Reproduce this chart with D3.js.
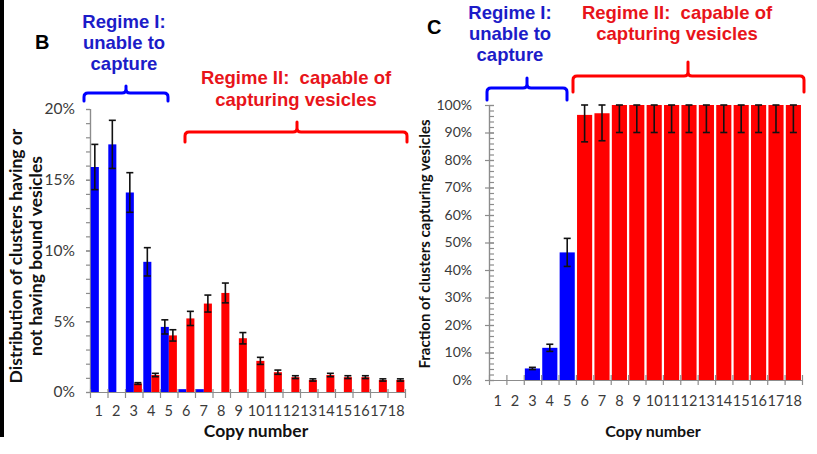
<!DOCTYPE html>
<html>
<head>
<meta charset="utf-8">
<script src="https://cdn.jsdelivr.net/npm/d3@7"></script>
<style>
  body { margin: 0; background: #fff; }
  svg { display: block; }
</style>
</head>
<body>
<svg id="chart" width="817" height="454"></svg>
<script>
// copy numbers shared by both panels
const copyNumbers = d3.range(1, 19);

// panel B: distribution (fraction), blue = not bound, red = bound
const distBlue    = [0.159, 0.175, 0.141, 0.092, 0.046, 0.002, 0.002, 0, 0, 0, 0, 0, 0, 0, 0, 0, 0, 0];
const distBlueErr = [0.016, 0.017, 0.014, 0.010, 0.005, 0, 0, 0, 0, 0, 0, 0, 0, 0, 0, 0, 0, 0];
const distRed     = [0, 0, 0.006, 0.012, 0.040, 0.052, 0.0625, 0.070, 0.038, 0.022, 0.014, 0.0105, 0.0085, 0.012, 0.0105, 0.0105, 0.0085, 0.0085];
const distRedErr  = [0, 0, 0.0006, 0.0012, 0.004, 0.005, 0.006, 0.007, 0.004, 0.0025, 0.0015, 0.001, 0.0008, 0.0012, 0.001, 0.001, 0.0008, 0.0008];

// panel C: fraction of clusters capturing vesicles
const captureFrac = [0, 0, 0.042, 0.117, 0.464, 0.964, 0.970, 1, 1, 1, 1, 1, 1, 1, 1, 1, 1, 1];
const captureErr  = [0, 0, 0.004, 0.013, 0.051, 0.098, 0.100, 0.10, 0.10, 0.10, 0.10, 0.10, 0.10, 0.10, 0.10, 0.10, 0.10, 0.10];
const regimeOf    = copyNumbers.map(c => c <= 5 ? "I" : "II");

const regimeOneText = ["Regime I:", "unable to", "capture"];
const regimeTwoText = ["Regime II:\u00a0 capable of", "capturing vesicles"];

const BLUE = "#0000ff", RED = "#ff0000";
const TXT_BLUE = "#1c1cc8", TXT_RED = "#e8141a";
const AXIS = "#8c8c8c", TICKTXT = "#3a3a3a";

const svg = d3.select("#chart");

// black edge on the far left
svg.append("rect").attr("x", 0).attr("y", 0).attr("width", 4).attr("height", 437).attr("fill", "#000");

function brace(x0, x1, xm, yLine, yEnd, yTop, color) {
    const r = 4;
    const p = `M${x0},${yEnd} L${x0},${yLine + r} Q${x0},${yLine} ${x0 + r},${yLine} L${xm - r},${yLine} Q${xm},${yLine} ${xm},${yLine - r} L${xm},${yTop}` +
              ` M${xm},${yLine - r} Q${xm},${yLine} ${xm + r},${yLine} L${x1 - r},${yLine} Q${x1},${yLine} ${x1},${yLine + r} L${x1},${yEnd}`;
    svg.append("path").attr("d", p).attr("fill", "none").attr("stroke", color)
        .attr("stroke-width", 3).attr("stroke-linecap", "round");
}

function label(lines, x, y0, dy, color, size) {
    const t = svg.append("text").attr("text-anchor", "middle")
        .attr("font-family", "Liberation Sans, Arial, sans-serif")
        .attr("font-weight", "bold").attr("font-size", size).attr("fill", color);
    lines.forEach((s, i) => t.append("tspan").attr("x", x).attr("y", y0 + i * dy).text(s));
}

function errorBars(g, data, xc, y, capW) {
    const eg = g.append("g").attr("stroke", "#111").attr("stroke-width", 1.6);
    data.forEach(d => {
        if (!d.e) return;
        const top = y(Math.min(1, d.v + d.e)), bot = y(Math.max(0, d.v - d.e)), cx = xc(d);
        eg.append("line").attr("x1", cx).attr("x2", cx).attr("y1", top).attr("y2", bot);
        eg.append("line").attr("x1", cx - capW).attr("x2", cx + capW).attr("y1", top).attr("y2", top);
        eg.append("line").attr("x1", cx - capW).attr("x2", cx + capW).attr("y1", bot).attr("y2", bot);
    });
}

function styleAxis(g, size) {
    g.select(".domain").attr("stroke", AXIS).attr("stroke-width", 1.2);
    g.selectAll(".tick line").attr("stroke", AXIS).attr("stroke-width", 1.2);
    g.selectAll(".tick text").attr("fill", TICKTXT).attr("font-family", "Lato, Open Sans, sans-serif").attr("font-size", size);
}

// ---------------- Panel B ----------------
{
    const left = 90, right = 405, top = 109, bottom = 392;
    const x = d3.scaleBand().domain(copyNumbers).range([left, right]).padding(0);
    const sub = d3.scaleBand().domain(["blue", "red"]).range([0.8, x.bandwidth() - 0.6]).padding(0);
    const y = d3.scaleLinear().domain([0, 0.2]).range([bottom, top]);
    const g = svg.append("g");

    const blue = copyNumbers.map((c, i) => ({c, v: distBlue[i], e: distBlueErr[i]}));
    const red = copyNumbers.map((c, i) => ({c, v: distRed[i], e: distRedErr[i]}));

    // minor y ticks (1%)
    const minor = g.append("g").attr("transform", `translate(${left},0)`)
        .call(d3.axisLeft(y).tickValues(d3.range(0, 0.2001, 0.01)).tickSize(4).tickFormat(""));
    styleAxis(minor, 15);
    const yAx = g.append("g").attr("transform", `translate(${left},0)`)
        .call(d3.axisLeft(y).tickValues([0, 0.05, 0.1, 0.15, 0.2]).tickSize(4).tickPadding(11).tickFormat(d3.format(".0%")));
    styleAxis(yAx, 15.5);

    g.append("g").selectAll("rect").data(blue.filter(d => d.v > 0)).join("rect")
        .attr("x", d => x(d.c) + sub("blue")).attr("width", sub.bandwidth())
        .attr("y", d => y(d.v)).attr("height", d => y(0) - y(d.v)).attr("fill", BLUE);
    g.append("g").selectAll("rect").data(red.filter(d => d.v > 0)).join("rect")
        .attr("x", d => x(d.c) + sub("red")).attr("width", sub.bandwidth())
        .attr("y", d => y(d.v)).attr("height", d => y(0) - y(d.v)).attr("fill", RED);

    // x axis with ticks at category boundaries
    const xb = d3.scaleLinear().domain([0.5, 18.5]).range([left, right]);
    const xAx = g.append("g").attr("transform", `translate(0,${bottom})`)
        .call(d3.axisBottom(xb).tickValues(d3.range(0.5, 18.6, 1)).tickSizeInner(6).tickSizeOuter(0).tickFormat(""));
    styleAxis(xAx, 15);
    xAx.selectAll(".tick line").attr("y1", -3);
    const xLab = g.append("g").attr("transform", `translate(0,${bottom})`)
        .call(d3.axisBottom(x).tickSize(0).tickPadding(14));
    xLab.select(".domain").remove();
    styleAxis(xLab, 14.5);

    errorBars(g, blue, d => x(d.c) + sub("blue") + sub.bandwidth() / 2, y, 3.5);
    errorBars(g, red, d => x(d.c) + sub("red") + sub.bandwidth() / 2, y, 3.5);

    g.append("text").attr("x", 256).attr("y", 437).attr("text-anchor", "middle")
        .attr("font-family", "Lato, sans-serif").attr("font-weight", "bold").attr("font-size", 17.5)
        .attr("fill", "#111").text("Copy number");

    const yt = g.append("text").attr("transform", "translate(0,256) rotate(-90)").attr("text-anchor", "middle")
        .attr("font-family", "Lato, sans-serif").attr("font-weight", "bold").attr("font-size", 17.5).attr("fill", "#111");
    yt.append("tspan").attr("x", 0).attr("y", 22).text("Distribution of clusters having or");
    yt.append("tspan").attr("x", 0).attr("y", 42).text("not having bound vesicles");

    svg.append("text").attr("x", 35).attr("y", 49).attr("font-family", "Liberation Sans, Arial, sans-serif")
        .attr("font-weight", "bold").attr("font-size", 20).attr("fill", "#000").text("B");

    label(regimeOneText, 124, 28, 21, TXT_BLUE, 18.5);
    label(regimeTwoText, 296, 84, 21.5, TXT_RED, 18.5);
    brace(84, 168, 126, 93, 101, 86, BLUE);
    brace(185, 407, 297, 132, 142, 122, RED);
}

// ---------------- Panel C ----------------
{
    const left = 489, right = 802, top = 105, bottom = 380;
    const x = d3.scaleBand().domain(copyNumbers).range([left, right]).paddingInner(0.13).paddingOuter(0.06);
    const y = d3.scaleLinear().domain([0, 1]).range([bottom, top]);
    const g = svg.append("g");

    const data = copyNumbers.map((c, i) => ({c, v: captureFrac[i], e: captureErr[i], r: regimeOf[i]}));

    const minor = g.append("g").attr("transform", `translate(${left},0)`)
        .call(d3.axisRight(y).tickValues(d3.range(0, 1.0001, 0.02)).tickSize(5).tickFormat(""));
    styleAxis(minor, 12);
    const yAx = g.append("g").attr("transform", `translate(${left},0)`)
        .call(d3.axisLeft(y).tickValues(d3.range(0, 1.0001, 0.1)).tickSize(4).tickPadding(13).tickFormat(d3.format(".0%")));
    styleAxis(yAx, 14);
    yAx.selectAll(".tick line").attr("x2", 5).attr("x1", -4);

    g.append("g").selectAll("rect").data(data.filter(d => d.v > 0)).join("rect")
        .attr("x", d => x(d.c)).attr("width", x.bandwidth())
        .attr("y", d => y(d.v)).attr("height", d => y(0) - y(d.v))
        .attr("fill", d => d.r === "I" ? BLUE : RED);

    const xb = d3.scaleLinear().domain([0.5, 18.5]).range([left, right]);
    const xAx = g.append("g").attr("transform", `translate(0,${bottom})`)
        .call(d3.axisBottom(xb).tickValues(d3.range(0.5, 18.6, 1)).tickSizeInner(5).tickSizeOuter(0).tickFormat(""));
    styleAxis(xAx, 14);
    xAx.selectAll(".tick line").attr("y1", -5);
    const xLab = g.append("g").attr("transform", `translate(0,${bottom})`)
        .call(d3.axisBottom(x).tickSize(0).tickPadding(16));
    xLab.select(".domain").remove();
    styleAxis(xLab, 14.5);

    errorBars(g, data, d => x(d.c) + x.bandwidth() / 2, y, 3.5);

    g.append("text").attr("x", 653).attr("y", 437).attr("text-anchor", "middle")
        .attr("font-family", "Lato, sans-serif").attr("font-weight", "bold").attr("font-size", 16)
        .attr("fill", "#111").text("Copy number");

    g.append("text").attr("transform", "translate(430,244) rotate(-90)").attr("text-anchor", "middle")
        .attr("font-family", "Lato, sans-serif").attr("font-weight", "bold").attr("font-size", 15)
        .attr("fill", "#111").text("Fraction of clusters capturing vesicles");

    svg.append("text").attr("x", 427).attr("y", 34).attr("font-family", "Liberation Sans, Arial, sans-serif")
        .attr("font-weight", "bold").attr("font-size", 20).attr("fill", "#000").text("C");

    label(regimeOneText, 510, 19, 21, TXT_BLUE, 18.5);
    label(regimeTwoText, 677, 19, 21, TXT_RED, 18.5);
    brace(487, 567, 527, 88, 100, 78, BLUE);
    brace(573, 804, 688, 76, 92, 62, RED);
}
</script>
</body>
</html>
